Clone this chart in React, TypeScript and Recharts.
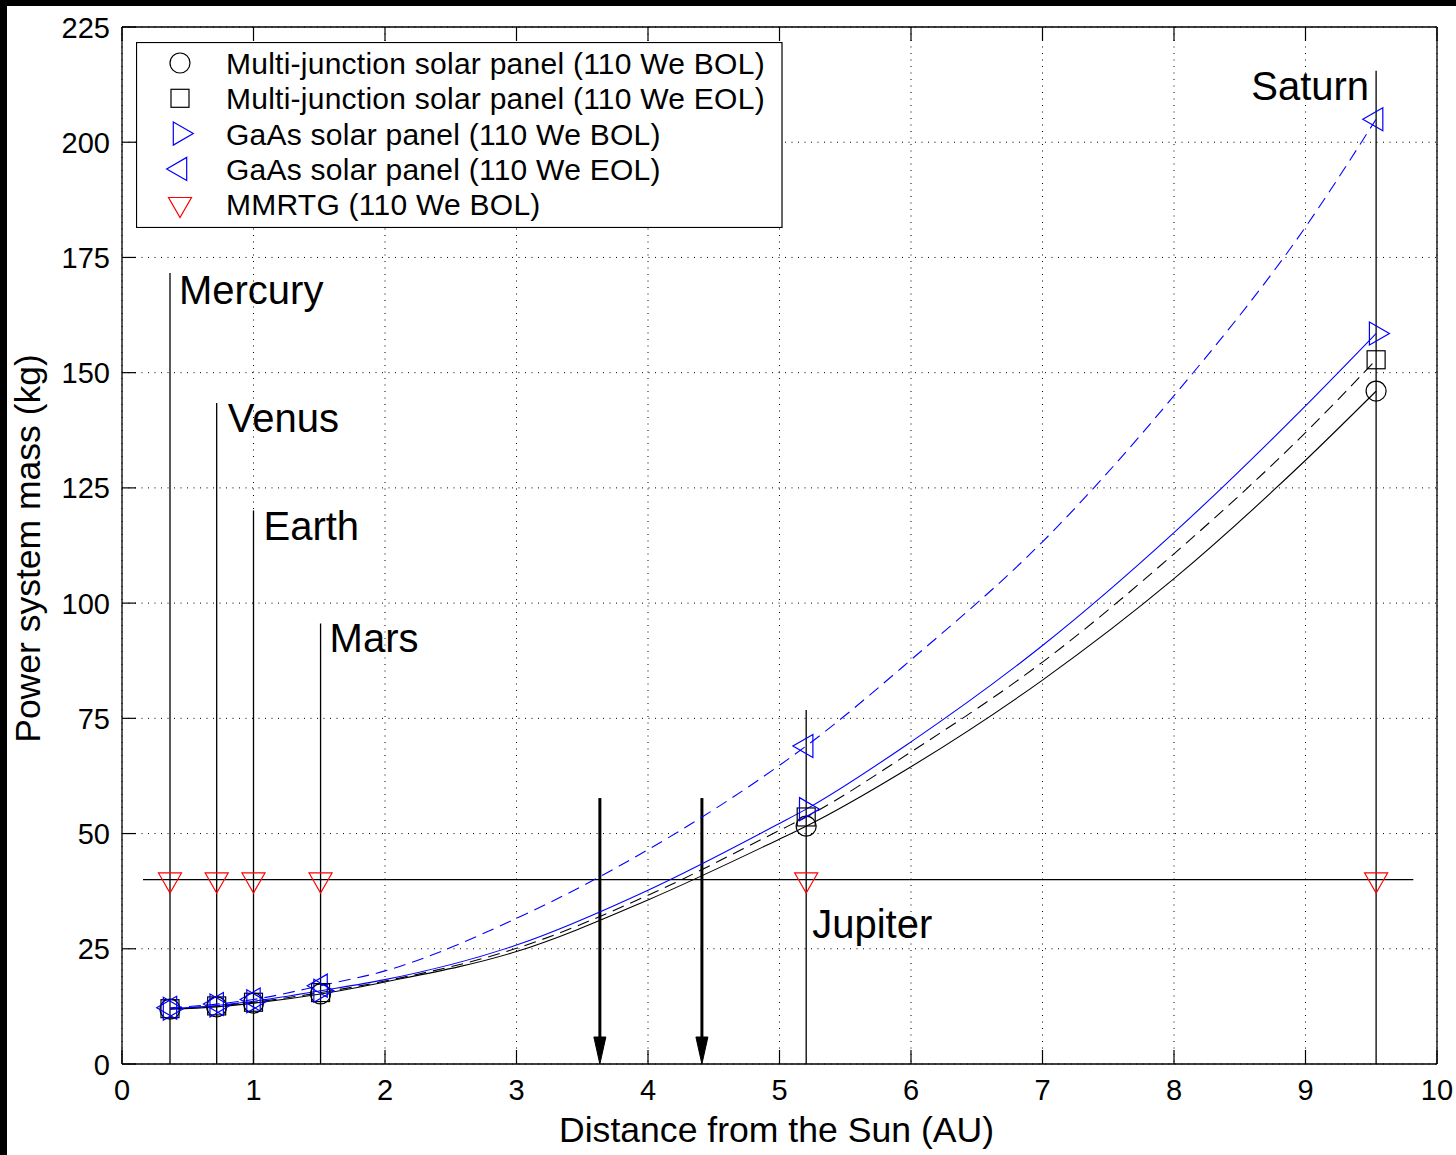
import React from 'react';
import { LineChart, Line, XAxis, YAxis, CartesianGrid, ReferenceLine, Legend } from 'recharts';

const FONT = '"Liberation Sans", Arial, Helvetica, sans-serif';

// ---------------- data ----------------
const DIST_AU = [0.365, 0.72, 1.0, 1.51, 2, 3, 4, 5, 5.203, 6, 7, 8, 9, 9.537];
const MJ_BOL = [11.9, 12.4, 13.2, 15.2, 17.8, 24.4, 35.6, 48.8, 51.6, 64.5, 83.3, 105.3, 131.0, 146.0];
const MJ_EOL = [12.0, 12.6, 13.4, 15.5, 18.0, 25.1, 36.6, 50.7, 53.6, 67.7, 87.2, 110.7, 137.0, 152.8];
const GAAS_BOL = [12.0, 12.7, 13.6, 15.9, 18.3, 25.8, 37.7, 52.2, 55.3, 69.9, 90.8, 115.3, 142.8, 158.5];
const GAAS_EOL = [12.2, 13.0, 14.0, 17.0, 20.2, 31.6, 46.5, 64.8, 69.0, 87.7, 113.3, 145.0, 181.6, 205.0];

const PLANETS = ['Mercury', 'Venus', 'Earth', 'Mars', 'Jupiter', 'Saturn'];
const PLANET_AU = [0.365, 0.72, 1.0, 1.51, 5.203, 9.537];
const PLANET_LINE_TOP = [171.6, 143.4, 120.1, 95.6, 76.8, 215.5];
const MMRTG_MASS = [40, 40, 40, 40, 40, 40];

const MMRTG_LEVEL = 40;
const MMRTG_LINE_FROM = 0.16;
const MMRTG_LINE_TO = 9.82;

const ARROW_AU = [3.634, 4.41];
const ARROW_TOP = 57.7;

const X_TICKS = [0, 1, 2, 3, 4, 5, 6, 7, 8, 9, 10];
const Y_TICKS = [0, 25, 50, 75, 100, 125, 150, 175, 200, 225];

const LEGEND_LABELS = [
  'Multi-junction solar panel (110 We BOL)',
  'Multi-junction solar panel (110 We EOL)',
  'GaAs solar panel (110 We BOL)',
  'GaAs solar panel (110 We EOL)',
  'MMRTG (110 We BOL)',
];

const X_TITLE = 'Distance from the Sun (AU)';
const Y_TITLE = 'Power system mass (kg)';

// tables built from the arrays
const curveData = DIST_AU.map((x, i) => ({
  x,
  mjBol: MJ_BOL[i],
  mjEol: MJ_EOL[i],
  gaBol: GAAS_BOL[i],
  gaEol: GAAS_EOL[i],
  planet: PLANET_AU.includes(x),
}));
const mmrtgData = PLANET_AU.map((x, i) => ({ x, mmrtg: MMRTG_MASS[i], planet: true }));

// ---------------- styles ----------------
const BLUE = '#0000ff';
const RED = '#ff0000';
const BLACK = '#000000';

const LABEL_POS: Record<string, { dx: number; dy: number; anchor: 'start' | 'end' }> = {
  Mercury: { dx: 9, dy: 31, anchor: 'start' },
  Venus: { dx: 11, dy: 29, anchor: 'start' },
  Earth: { dx: 10, dy: 30, anchor: 'start' },
  Mars: { dx: 9, dy: 29, anchor: 'start' },
  Jupiter: { dx: 6, dy: 228, anchor: 'start' },
  Saturn: { dx: -7, dy: 29, anchor: 'end' },
};

type Kind = 'circle' | 'square' | 'right' | 'left' | 'down';

function Marker({ kind, cx, cy, color }: { kind: Kind; cx: number; cy: number; color: string }) {
  const sw = 1.2;
  if (kind === 'circle') return <circle cx={cx} cy={cy} r={10} fill="none" stroke={color} strokeWidth={sw} />;
  if (kind === 'square')
    return <rect x={cx - 9} y={cy - 9} width={18} height={18} fill="none" stroke={color} strokeWidth={sw} />;
  let pts = '';
  if (kind === 'right') pts = `${cx - 6.7},${cy - 11.5} ${cx - 6.7},${cy + 11.5} ${cx + 13.3},${cy}`;
  if (kind === 'left') pts = `${cx + 6.7},${cy - 11.5} ${cx + 6.7},${cy + 11.5} ${cx - 13.3},${cy}`;
  if (kind === 'down') pts = `${cx - 11.5},${cy - 6.7} ${cx + 11.5},${cy - 6.7} ${cx},${cy + 13.3}`;
  return <polygon points={pts} fill="none" stroke={color} strokeWidth={sw} />;
}

const dotFor = (kind: Kind, color: string) => (props: any) => {
  const { cx, cy, payload, index } = props;
  if (!payload || !payload.planet || cx == null || cy == null) return <g key={`e-${kind}-${index}`} />;
  return (
    <g key={`m-${kind}-${index}`}>
      <Marker kind={kind} cx={cx} cy={cy} color={color} />
    </g>
  );
};

const LEGEND_KINDS: Kind[] = ['circle', 'square', 'right', 'left', 'down'];
const LEGEND_COLORS = [BLACK, BLACK, BLUE, BLUE, RED];

function LegendBox() {
  return (
    <svg width={647} height={186} style={{ display: 'block' }}>
      <rect x={0.5} y={0.5} width={645.5} height={185} fill="#fff" stroke="#000" strokeWidth={1.2} />
      {LEGEND_LABELS.map((t, i) => {
        const cy = 21 + i * 35.3;
        return (
          <g key={t}>
            <Marker kind={LEGEND_KINDS[i]} cx={44} cy={cy} color={LEGEND_COLORS[i]} />
            <text x={90} y={cy + 11} fontSize={30} letterSpacing={0.25} fontFamily={FONT} fill="#000">
              {t}
            </text>
          </g>
        );
      })}
    </svg>
  );
}

const TICK_LEN = 14;

const BottomTick = (p: any) => (
  <g>
    <line x1={p.x} y1={p.y} x2={p.x} y2={p.y - TICK_LEN} stroke="#000" strokeWidth={1.2} />
    <text x={p.x} y={p.y + 36} textAnchor="middle" fontSize={29} fontFamily={FONT} fill="#000">
      {p.payload.value}
    </text>
  </g>
);
const TopTick = (p: any) => (
  <line x1={p.x} y1={p.y} x2={p.x} y2={p.y + TICK_LEN} stroke="#000" strokeWidth={1.2} />
);
const LeftTick = (p: any) => (
  <g>
    <line x1={p.x} y1={p.y} x2={p.x + TICK_LEN} y2={p.y} stroke="#000" strokeWidth={1.2} />
    <text x={p.x - 12} y={p.y + 10.5} textAnchor="end" fontSize={29} fontFamily={FONT} fill="#000">
      {p.payload.value}
    </text>
  </g>
);
const RightTick = (p: any) => (
  <line x1={p.x} y1={p.y} x2={p.x - TICK_LEN} y2={p.y} stroke="#000" strokeWidth={1.2} />
);

const XTitle = (p: any) => {
  const vb = p.viewBox || { x: 122, y: 1064, width: 1315, height: 91 };
  return (
    <text x={vb.x + vb.width / 2 - 3} y={vb.y + 78} textAnchor="middle" fontSize={35.6} fontFamily={FONT} fill="#000">
      {X_TITLE}
    </text>
  );
};
const YTitle = (p: any) => {
  const vb = p.viewBox || { x: 0, y: 27, width: 122, height: 1037 };
  const cx = vb.x + 40;
  const cy = vb.y + vb.height / 2 + 3;
  return (
    <text
      x={cx}
      y={cy}
      transform={`rotate(-90 ${cx} ${cy})`}
      textAnchor="middle"
      fontSize={35.5}
      fontFamily={FONT}
      fill="#000"
    >
      {Y_TITLE}
    </text>
  );
};

const planetLabel = (name: string) => (p: any) => {
  const vb = p.viewBox || { x: 0, y: 0 };
  const pos = LABEL_POS[name];
  return (
    <text x={vb.x + pos.dx} y={vb.y + pos.dy} textAnchor={pos.anchor} fontSize={40} fontFamily={FONT} fill="#000">
      {name}
    </text>
  );
};

const ArrowShape = (p: any) => {
  const x = p.x1;
  const yTop = Math.min(p.y1, p.y2);
  const yTip = Math.max(p.y1, p.y2);
  return (
    <g>
      <line x1={x} y1={yTop} x2={x} y2={yTip - 24} stroke="#000" strokeWidth={3} />
      <polygon points={`${x - 6},${yTip - 27} ${x + 6},${yTip - 27} ${x},${yTip}`} fill="#000" stroke="#000" />
    </g>
  );
};

export default function App() {
  return (
    <div style={{ position: 'absolute', left: 0, top: 0, width: 1456, height: 1155, background: '#fff', overflow: 'hidden' }}>
      <div style={{ position: 'absolute', left: 0, top: 0, width: 1456, height: 6, background: '#000' }} />
      <div style={{ position: 'absolute', left: 0, top: 0, width: 7, height: 1155, background: '#000' }} />
      <div style={{ position: 'absolute', left: 0, top: 0 }}>
        <LineChart width={1456} height={1155} data={curveData} margin={{ top: 0, right: 0, bottom: 0, left: 0 }}>
          <CartesianGrid stroke="#000" strokeDasharray="1 5.5" strokeWidth={1} />
          <XAxis
            type="number"
            dataKey="x"
            domain={[0, 10]}
            ticks={X_TICKS}
            interval={0}
            height={91}
            tickSize={0}
            tickMargin={0}
            tickLine={false}
            axisLine={{ stroke: '#000', strokeWidth: 1.3 }}
            tick={BottomTick}
            label={{ content: XTitle }}
          />
          <XAxis
            xAxisId="top"
            orientation="top"
            type="number"
            dataKey="x"
            domain={[0, 10]}
            ticks={X_TICKS}
            interval={0}
            height={27}
            tickSize={0}
            tickMargin={0}
            tickLine={false}
            axisLine={{ stroke: '#000', strokeWidth: 1.3 }}
            tick={TopTick}
          />
          <YAxis
            type="number"
            domain={[0, 225]}
            ticks={Y_TICKS}
            interval={0}
            width={122}
            tickSize={0}
            tickMargin={0}
            tickLine={false}
            axisLine={{ stroke: '#000', strokeWidth: 1.3 }}
            tick={LeftTick}
            label={{ content: YTitle }}
          />
          <YAxis
            yAxisId="right"
            orientation="right"
            type="number"
            domain={[0, 225]}
            ticks={Y_TICKS}
            interval={0}
            width={19}
            tickSize={0}
            tickMargin={0}
            tickLine={false}
            axisLine={{ stroke: '#000', strokeWidth: 1.3 }}
            tick={RightTick}
          />

          {PLANETS.map((name, i) => (
            <ReferenceLine
              key={name}
              segment={[
                { x: PLANET_AU[i], y: 0 },
                { x: PLANET_AU[i], y: PLANET_LINE_TOP[i] },
              ]}
              stroke="#000"
              strokeWidth={1.3}
              label={planetLabel(name)}
            />
          ))}
          <ReferenceLine
            segment={[
              { x: MMRTG_LINE_FROM, y: MMRTG_LEVEL },
              { x: MMRTG_LINE_TO, y: MMRTG_LEVEL },
            ]}
            stroke="#000"
            strokeWidth={1.3}
          />
          {ARROW_AU.map((a) => (
            <ReferenceLine
              key={`arr-${a}`}
              segment={[
                { x: a, y: ARROW_TOP },
                { x: a, y: 0 },
              ]}
              stroke="#000"
              shape={ArrowShape}
            />
          ))}

          <Line
            dataKey="mjBol"
            type="monotone"
            stroke={BLACK}
            strokeWidth={1.1}
            dot={dotFor('circle', BLACK)}
            activeDot={false}
            isAnimationActive={false}
          />
          <Line
            dataKey="mjEol"
            type="monotone"
            stroke={BLACK}
            strokeWidth={1.1}
            strokeDasharray="12 7"
            dot={dotFor('square', BLACK)}
            activeDot={false}
            isAnimationActive={false}
          />
          <Line
            dataKey="gaBol"
            type="monotone"
            stroke={BLUE}
            strokeWidth={1.1}
            dot={dotFor('right', BLUE)}
            activeDot={false}
            isAnimationActive={false}
          />
          <Line
            dataKey="gaEol"
            type="monotone"
            stroke={BLUE}
            strokeWidth={1.1}
            strokeDasharray="12 7"
            dot={dotFor('left', BLUE)}
            activeDot={false}
            isAnimationActive={false}
          />
          <Line
            data={mmrtgData}
            dataKey="mmrtg"
            stroke="none"
            dot={dotFor('down', RED)}
            activeDot={false}
            isAnimationActive={false}
          />
          <Legend
            layout="vertical"
            align="center"
            verticalAlign="middle"
            content={() => <LegendBox />}
            wrapperStyle={{ position: 'absolute', left: 136, top: 42, width: 647, height: 186 }}
          />
        </LineChart>
      </div>
    </div>
  );
}
